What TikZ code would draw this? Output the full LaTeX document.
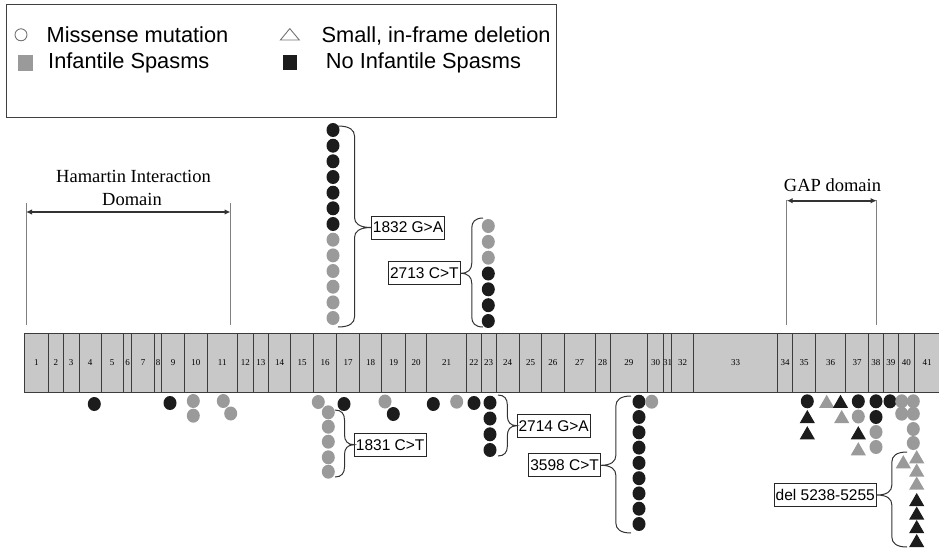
\documentclass[tikz,border=0pt]{standalone}
\usepackage{fontspec}
\setmainfont{Liberation Serif}
\newfontfamily\arialf{Liberation Sans}
\usetikzlibrary{shapes.geometric,arrows.meta}
\definecolor{mgray}{HTML}{9A9A9A}
\definecolor{mblack}{HTML}{1C1C1C}
\definecolor{barfill}{HTML}{C8C8C9}
\definecolor{barline}{HTML}{3C3C3C}
\newcommand{\vbr}[5]{% base x, tip x, top y, bottom y, mid y
  \pgfmathsetmacro\vbB{(#1+#2)/2}%
  \pgfmathsetmacro\vbH{10}%
  \draw[bracestyle] (#1,#3) .. controls ({#1+0.7*(\vbB-#1)},#3) and (\vbB,{#3+4}) .. (\vbB,{#3+\vbH})
    -- (\vbB,{#5-\vbH}) .. controls (\vbB,{#5-4}) and ({\vbB+0.3*(#2-\vbB)},#5) .. (#2,#5)
    .. controls ({\vbB+0.3*(#2-\vbB)},#5) and (\vbB,{#5+4}) .. (\vbB,{#5+\vbH})
    -- (\vbB,{#4-\vbH}) .. controls (\vbB,{#4-4}) and ({#1+0.7*(\vbB-#1)},#4) .. (#1,#4);
}
\begin{document}
\begin{tikzpicture}[x=1pt,y=-1pt,
  mb/.style={ellipse,inner sep=0,minimum width=13pt,minimum height=14pt,fill=mblack},
  mg/.style={mb,fill=mgray},
  tb/.style={regular polygon,regular polygon sides=3,inner sep=0,minimum size=17.5pt,fill=mblack,yshift=-2.2pt},
  tg/.style={tb,fill=mgray},
  exon/.style={draw=barline,fill=barfill,line width=0.9pt,minimum height=59pt,inner sep=0,font=\fontsize{9}{10}\selectfont},
  lbl/.style={draw=black!85,line width=0.8pt,fill=white,inner sep=1.5pt,minimum height=23pt,font=\arialf\fontsize{15.5}{18}\selectfont},
  legtxt/.style={inner sep=0,font=\arialf\fontsize{21.8}{26}\selectfont},
  dom/.style={inner sep=0,font=\fontsize{18.5}{22}\selectfont},
  domline/.style={draw=black!50,line width=0.8pt},
  domarrow/.style={draw=black!80,line width=2pt,{Latex[length=6pt,width=5.5pt]}-{Latex[length=6pt,width=5.5pt]}},
  bracestyle/.style={draw=black!80,line width=1pt}
]
\useasboundingbox (0,0) rectangle (939,549);

% legend
\node[draw=black!75,line width=1pt,minimum width=550pt,minimum height=113pt,inner sep=0,anchor=north west] (legend) at (6,4) {};
\node[circle,draw=black!55,line width=0.9pt,minimum size=12pt,inner sep=0] (lcirc) at (21,34.8) {};
\node[legtxt,anchor=base west] (lt1) at (46.4,42) {Missense mutation};
\node[fill=mgray,minimum width=15pt,minimum height=16pt,inner sep=0] (lsq1) at (25.4,62.5) {};
\node[legtxt,anchor=base west] (lt2) at (48,68.6) {Infantile Spasms};
\draw[draw=black!55,line width=0.9pt] (280.4,40) -- (299.3,40) -- (289.8,28.6) -- cycle;
\node[legtxt,anchor=base west] (lt3) at (321.4,42) {Small, in-frame deletion};
\node[fill=mblack,minimum width=14pt,minimum height=15pt,inner sep=0] (lsq2) at (290,62) {};
\node[legtxt,anchor=base west] (lt4) at (325.7,68.6) {No Infantile Spasms};

% domains
\coordinate (h1a) at (26,203); \coordinate (h1b) at (26,325);
\coordinate (h2a) at (230.5,203); \coordinate (h2b) at (230.5,325);
\draw[domline] (h1a) -- (h1b);
\draw[domline] (h2a) -- (h2b);
\coordinate (ha1) at (26,212); \coordinate (ha2) at (230.5,212);
\draw[domarrow] (ha1) -- (ha2);
\node[dom,anchor=base] (ham1) at (133.5,182.7) {Hamartin Interaction};
\node[dom,anchor=base] (ham2) at (132,205) {Domain};

\coordinate (g1a) at (786.7,200); \coordinate (g1b) at (786.7,325);
\coordinate (g2a) at (876.7,200); \coordinate (g2b) at (876.7,325);
\draw[domline] (g1a) -- (g1b);
\draw[domline] (g2a) -- (g2b);
\coordinate (ga1) at (786.7,200.7); \coordinate (ga2) at (876.7,200.7);
\draw[domarrow] (ga1) -- (ga2);
\node[dom,anchor=base] (gap) at (832.5,191.7) {GAP domain};

% exon bar
\foreach \n/\a/\b in {1/24.3/48.3, 2/48.3/63.3, 3/63.3/79, 4/79/101, 5/101/123.3, 6/123.3/131.7, 7/131.7/154.3, 8/154.3/161.7, 9/161.7/184.3, 10/184.3/207.3, 11/207.3/237.3, 12/237.3/253.3, 13/253.3/268.3, 14/268.3/290.7, 15/290.7/313.3, 16/313.3/336.7, 17/336.7/359.3, 18/359.3/381.7, 19/381.7/405.3, 20/405.3/426.7, 21/426.7/466.7, 22/466.7/481, 23/481/496, 24/496/519.3, 25/519.3/541.7, 26/541.7/564, 27/564/595, 28/595/610, 29/610/647.7, 30/647.7/663.3, 31/663.3/671.7, 32/671.7/693.3, 33/693.3/777.7, 34/777.7/792.7, 35/792.7/815.3, 36/815.3/845.7, 37/845.7/868.3, 38/868.3/883.3, 39/883.3/898.3, 40/898.3/914.3, 41/914.3/940}{
  \pgfmathsetmacro\w{\b-\a}
  \pgfmathsetmacro\c{(\a+\b)/2}
  \node[exon,minimum width=\w pt] (e\n) at (\c,362.5) {\makebox[0pt]{\n}};
}

% markers above the bar
\foreach \t/\y [count=\k] in {mb/130, mb/145.7, mb/161.3, mb/177, mb/192.7, mb/208.3, mb/224, mg/239.7, mg/255.4, mg/271, mg/286.7, mg/302.4, mg/318}
  \node[\t] (a\k) at (333,\y) {};
\foreach \t/\y [count=\k] in {mg/226, mg/241.8, mg/257.7, mb/273.5, mb/289.3, mb/305.2, mb/321}
  \node[\t] (b\k) at (488.3,\y) {};

% markers below the bar
\foreach \t/\x/\y [count=\k] in {mb/94.3/404, mb/170/403, mg/193.3/401, mg/193.3/415.7, mg/223.3/401, mg/230.7/413.5, mg/318.3/402, mg/328.3/412.3, mg/328.3/426.7, mg/328.3/441.7, mg/328.3/457.3, mg/328.3/471.7, mb/344/404, mg/385/401.5, mb/393.3/414, mb/433.3/404, mg/456.7/401.7, mb/474/403, mb/490/402.7, mb/490/418.5, mb/490/434.3, mb/490/450, mb/639/401.7, mb/639/417, mb/639/432.3, mb/639/447.6, mb/639/462.9, mb/639/478.2, mb/639/493.4, mb/639/508.7, mb/639/524, mg/651.7/401.7, mb/807.3/401.3, tg/826.7/401.3, tb/840.5/401.3, mb/858.3/401.3, mb/876/401.3, mb/890/401.3, mg/901.7/401.3, mg/913.3/401.3, tb/807.3/416.5, tg/841.7/416.5, mg/858.3/416.5, mb/876/417, mg/901.7/413.7, mg/913.3/413.7, tb/807.3/432.7, tb/858.3/432.7, mg/876/432, mg/913.3/429, tg/858.3/448.7, mg/876/447, mg/913.3/443, tg/903.3/461.7, tg/916.7/456.7, tg/916.7/470, tg/916.7/483, tb/916.7/499.5, tb/916.7/513, tb/916.7/526.5, tb/916.7/540.5}
  \node[\t] (d\k) at (\x,\y) {};

% labels
\node[lbl,anchor=west] (l1832) at (371,227.5) {1832 G>A};
\node[lbl,anchor=east] (l2713) at (460.5,273.3) {2713 C>T};
\node[lbl,anchor=west] (l1831) at (354,444.7) {1831 C>T};
\node[lbl,anchor=west] (l2714) at (516.7,425.7) {2714 G>A};
\node[lbl,anchor=east] (l3598) at (600.7,465.3) {3598 C>T};
\node[lbl,anchor=east] (ldel) at (876.7,495) {del 5238-5255};

% braces
\vbr{338}{371}{126}{327}{227.5}
\vbr{483}{460.5}{218}{327}{273.3}
\vbr{335}{354}{410}{477}{444.7}
\vbr{498}{516.7}{395}{456}{425.7}
\vbr{631}{600.7}{396}{533}{465.3}
\vbr{907}{876.7}{452}{547}{495}
\end{tikzpicture}
\end{document}
